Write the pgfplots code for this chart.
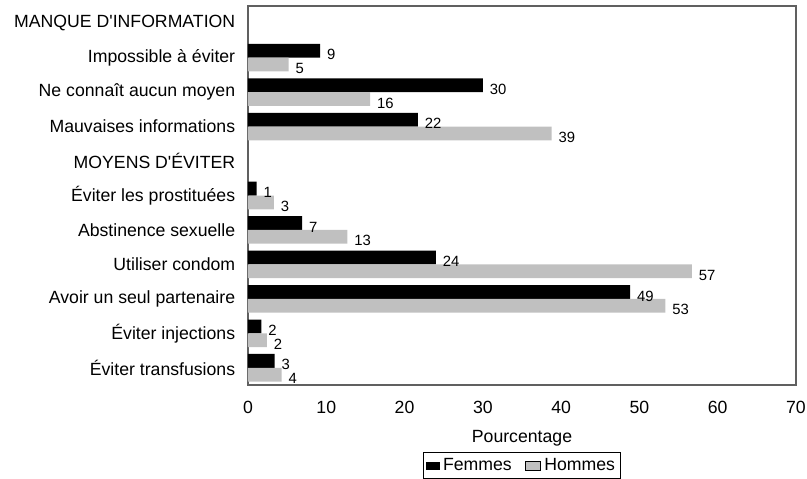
\documentclass[border=0pt]{standalone}
\usepackage{fontspec}
\setmainfont{Liberation Sans}[Ligatures=TeXOff]
\usepackage{pgfplots}
\pgfplotsset{compat=1.18}
\definecolor{framegray}{RGB}{96,96,96}
\definecolor{barg}{RGB}{192,192,192}

\begin{document}
\begin{tikzpicture}[font=\fontsize{10.6}{12.7}\selectfont]
\begin{axis}[
  scale only axis,
  width=328.8pt, height=227.4pt,
  xbar, bar width=0.4,
  xmin=0, xmax=70, xtick={0,10,...,70},
  ymin=-0.5, ymax=10.5, y dir=reverse,
  ytick={0,...,10},
  yticklabels={MANQUE D'INFORMATION, Impossible à éviter, Ne connaît aucun moyen,
    Mauvaises informations, MOYENS D'ÉVITER, Éviter les prostituées,
    Abstinence sexuelle, Utiliser condom, Avoir un seul partenaire,
    Éviter injections, Éviter transfusions},
  major tick length=0pt,
  axis line style={framegray, line width=0.8pt},
  /pgf/number format/assume math mode=true,
  yticklabel style={anchor=east, inner sep=0pt, xshift=-7.5pt},
  xticklabel style={anchor=base, inner sep=0pt, yshift=-16.8pt},
  xlabel={Pourcentage},
  xlabel style={at={(axis description cs:0.5,0)}, anchor=base, inner sep=0pt, yshift=-34.2pt},
  point meta=x,
  nodes near coords={\pgfmathprintnumber[fixed,precision=0]{\pgfplotspointmeta}},
  every node near coord/.append style={font=\fontsize{8.9}{10}\selectfont,
    anchor=west, inner sep=0pt, xshift=4pt, yshift=-2.4pt, black},
  legend style={at={(axis description cs:0.5,0)}, anchor=north, yshift=-40.2pt,
    draw=black, line width=0.6pt, legend columns=2, inner sep=1.5pt,
    /tikz/every even column/.append style={column sep=6pt}},
]
% Femmes
\addplot[fill=black, draw=none, bar shift=-0.2,
  legend image code/.code={\fill[black] (0pt,-2.4pt) rectangle (8.4pt,2.4pt);}]
  coordinates {(9.2,1) (30.0,2) (21.7,3) (1.1,5) (6.9,6) (24.0,7) (48.8,8) (1.7,9) (3.4,10)};
% Hommes
\addplot[fill=barg, draw=none, bar shift=0.2,
  legend image code/.code={\draw[black, line width=0.5pt, fill=barg] (0pt,-2.7pt) rectangle (9pt,2.7pt);}]
  coordinates {(5.2,1) (15.6,2) (38.8,3) (3.3,5) (12.7,6) (56.7,7) (53.3,8) (2.4,9) (4.3,10)};
\legend{Femmes, Hommes}
\end{axis}
\pgfresetboundingbox
\path[use as bounding box] ([shift={(-148.8pt,-55.8pt)}]current axis.south west)
  rectangle ([shift={(6.6pt,3.6pt)}]current axis.north east);
\end{tikzpicture}
\end{document}
